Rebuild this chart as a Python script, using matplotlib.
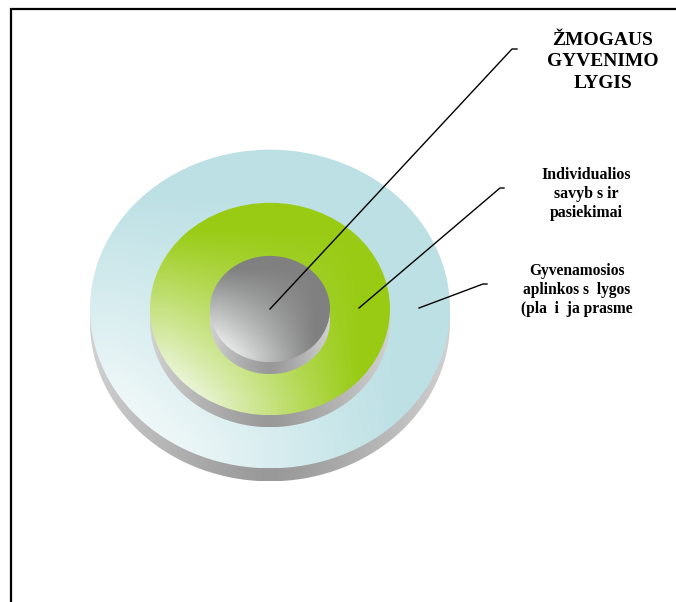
import numpy as np
import matplotlib
matplotlib.use('Agg')
import matplotlib.pyplot as plt
from matplotlib.patches import Ellipse, PathPatch
from matplotlib.path import Path
import matplotlib.colors as mcolors

# ============ 内容 ============
labels = ['ŽMOGAUS\nGYVENIMO\nLYGIS',
          'Individualios\nsavyb s ir\npasiekimai',
          'Gyvenamosios\naplinkos s  lygos\n(pla  i  ja prasme']
label_sizes = [14.0, 11.4, 11.2]
label_spacing = [1.35, 1.25, 1.22]

# 圆盘（由外到内）
disc_rx = [180, 120, 60]
disc_colors = ['#BCE0E4', '#99CB14', '#808080']
disc_thick = [13, 12, 12]

# ============ 布局（像素坐标） ============
W, H = 676, 602
cx, cy = 270, 309
ratio = 0.885

label_xy = [(603, 62), (586, 194), (577, 290)]
# 引线: 起点 -> 拐点 -> 终点
leaders = [[(270, 309), (512, 49), (517, 49)],
           [(359, 308), (500, 188), (504, 188)],
           [(419, 308), (483, 284), (487, 284)]]

plt.rcParams['font.family'] = ['Liberation Serif', 'DejaVu Serif']

fig = plt.figure(figsize=(W / 100, H / 100), dpi=100)
ax = fig.add_axes([0, 0, 1, 1])
ax.set_xlim(0, W)
ax.set_ylim(H, 0)
ax.axis('off')


def face_gradient(base, n=300):
    """左下亮、上方和右侧为主色的双向线性渐变"""
    u = np.linspace(-1, 1, n)
    uu, vv = np.meshgrid(u, u)
    tx = np.clip((uu + 0.85) / 1.6, 0, 1)
    ty = np.clip((0.85 - vv) / 1.6, 0, 1)
    t = 1 - (1 - tx) * (1 - ty)
    b = np.array(mcolors.to_rgb(base))
    white = np.array([0.98, 0.99, 0.99])
    return white * (1 - t[..., None]) + b * t[..., None]


def side_gradient(n=300):
    u = np.linspace(-1, 1, n)
    g = 0.60 + 0.22 * np.abs(u) ** 1.3
    img = np.repeat(g[None, :], 4, axis=0)
    return np.stack([img, img, img], axis=-1)


for rx, col, th in zip(disc_rx, disc_colors, disc_thick):
    ry = rx * ratio
    # 侧面
    ang = np.linspace(0, np.pi, 120)
    bottom = np.column_stack([cx + rx * np.cos(ang), cy + th + ry * np.sin(ang)])
    verts = np.vstack([[cx - rx, cy], [cx + rx, cy], bottom, [[cx - rx, cy]]])
    side_path = PathPatch(Path(verts), facecolor='none', edgecolor='none')
    ax.add_patch(side_path)
    im = ax.imshow(side_gradient(), extent=(cx - rx, cx + rx, cy + th + ry, cy),
                   aspect='auto', interpolation='bilinear', zorder=1)
    im.set_clip_path(side_path)
    # 顶面
    el = Ellipse((cx, cy), 2 * rx, 2 * ry, facecolor='none', edgecolor='none')
    ax.add_patch(el)
    im2 = ax.imshow(face_gradient(col), extent=(cx - rx, cx + rx, cy + ry, cy - ry),
                    aspect='auto', interpolation='bilinear', zorder=1)
    im2.set_clip_path(el)

# 引线
for pts in leaders:
    xs, ys = zip(*pts)
    ax.plot(xs, ys, color='black', lw=1.0, zorder=3)

# 文字
for txt, (x, y), fs, ls in zip(labels, label_xy, label_sizes, label_spacing):
    ax.text(x, y, txt, ha='center', va='center', fontsize=fs,
            fontweight='bold', linespacing=ls, zorder=4)

# 边框
ax.plot([11, 11, W], [H, 9, 9], color='black', lw=1.6, zorder=5,
        solid_joinstyle='miter')

fig.savefig('out.png', dpi=100, facecolor='white')
